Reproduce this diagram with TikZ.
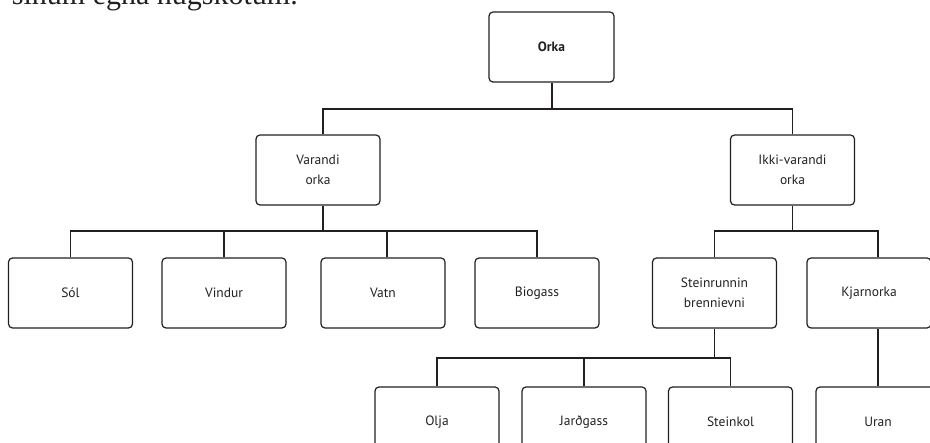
\documentclass[tikz,border=0pt]{standalone}
\usepackage{fontspec}
\setmainfont{PT Sans}
\newfontfamily\serifx{Liberation Serif}
\definecolor{lc}{HTML}{231F20}
\begin{document}
\begin{tikzpicture}[x=1pt,y=-1pt]
\tikzset{
  box/.style={draw=lc, line width=1.2pt, rounded corners=4pt, minimum width=124pt,
    minimum height=70pt, align=center, text=lc, inner sep=0pt,
    font=\fontsize{13.5}{20}\selectfont},
  conn/.style={draw=lc, line width=1.2pt}
}
\useasboundingbox (0,0) rectangle (930,443);
\clip (0,0) rectangle (930,443);
% cut-off line of running text at the top
\node[anchor=base east, inner sep=0pt, text=lc, font=\serifx\fontsize{30}{34}\selectfont] (toptext) at (298,4.5) {sínum egna hugskotum.};
% boxes
\node[box, minimum width=125pt, font=\bfseries\fontsize{13.5}{20}\selectfont] (orka) at (551.5,47) {Orka};
\node[box] (var) at (318,170) {Varandi\\orka};
\node[box] (ikki) at (792.5,170) {Ikki-varandi\\orka};
\node[box] (sol) at (70.5,293) {Sól};
\node[box] (vind) at (224,293) {Vindur};
\node[box] (vatn) at (383,293) {Vatn};
\node[box] (bio) at (537,293) {Biogass};
\node[box] (stein) at (714.5,293) {Steinrunnin\\brennievni};
\node[box] (kj) at (869,293) {Kjarnorka};
\node[box] (olja) at (437,422) {Olja};
\node[box] (jard) at (584,422) {Jarðgass};
\node[box] (steink) at (730.5,422) {Steinkol};
\node[box] (uran) at (878,422) {Uran};
% junctions
\coordinate (b1) at (552,109);
\coordinate (b2) at (323,231);
\coordinate (b3) at (792.5,231);
\coordinate (b4) at (714.5,358);
% connectors
\draw[conn] (orka.south -| b1) -- (b1);
\draw[conn] (var.north -| b2) |- (b1);
\draw[conn] (ikki.north) |- (b1);
\draw[conn] (var.south -| b2) -- (b2);
\draw[conn] (sol.north) |- (b2);
\draw[conn] (vind.north) |- (b2);
\draw[conn] ([xshift=4pt]vatn.north) |- (b2);
\draw[conn] (bio.north) |- (b2);
\draw[conn] (ikki.south) -- (b3);
\draw[conn] (stein.north) |- (b3);
\draw[conn] (uran.north |- kj.north) |- (b3);
\draw[conn] (stein.south) -- (b4);
\draw[conn] (olja.north) |- (b4);
\draw[conn] (jard.north) |- (b4);
\draw[conn] (steink.north) |- (b4);
\draw[conn] (uran.north |- kj.south) -- (uran.north);
\end{tikzpicture}
\end{document}
